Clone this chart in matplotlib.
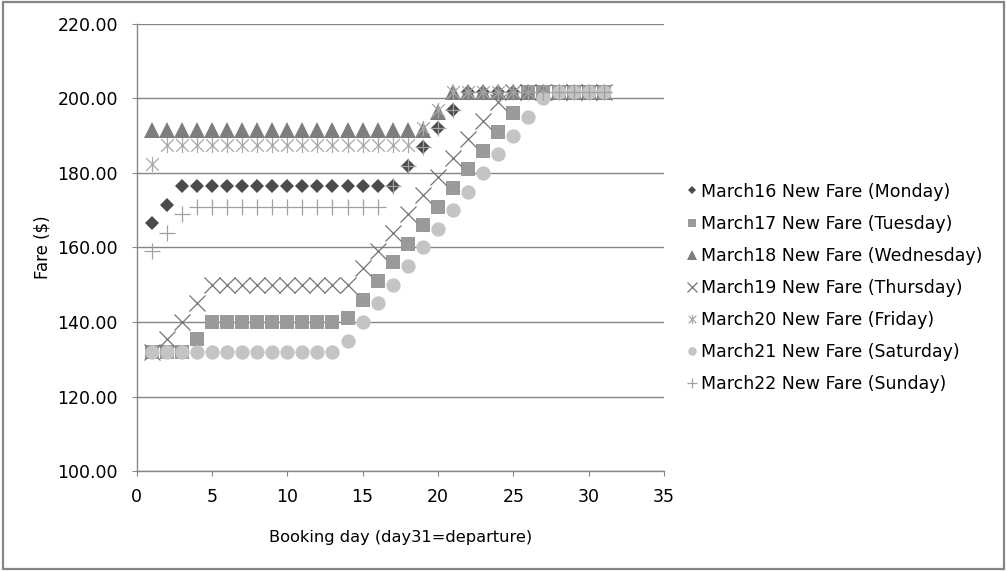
import matplotlib.pyplot as plt
import numpy as np
from matplotlib.patches import Rectangle
from matplotlib.path import Path

plt.rcParams['font.family'] = ['DejaVu Sans']

# booking day 1..31 (day 31 = departure)
days = np.arange(1, 32)

monday = [166.5, 171.5, 176.5, 176.5, 176.5, 176.5, 176.5, 176.5, 176.5, 176.5,
          176.5, 176.5, 176.5, 176.5, 176.5, 176.5, 176.5, 182.0, 187.0, 192.0,
          197.0, 201.7, 201.7, 201.7, 201.7, 201.7, 201.7, 201.7, 201.7, 201.7, 201.7]
tuesday = [132.0, 132.0, 132.0, 135.5, 140.0, 140.0, 140.0, 140.0, 140.0, 140.0,
           140.0, 140.0, 140.0, 141.0, 146.0, 151.0, 156.0, 161.0, 166.0, 171.0,
           176.0, 181.0, 186.0, 191.0, 196.0, 201.7, 201.7, 201.7, 201.7, 201.7, 201.7]
wednesday = [191.5, 191.5, 191.5, 191.5, 191.5, 191.5, 191.5, 191.5, 191.5, 191.5,
             191.5, 191.5, 191.5, 191.5, 191.5, 191.5, 191.5, 191.5, 191.5, 196.5,
             201.7, 201.7, 201.7, 201.7, 201.7, 201.7, 201.7, 201.7, 201.7, 201.7, 201.7]
thursday = [132.0, 135.5, 140.0, 145.0, 150.0, 150.0, 150.0, 150.0, 150.0, 150.0,
            150.0, 150.0, 150.0, 150.0, 154.5, 159.0, 164.0, 169.0, 174.0, 179.0,
            184.0, 189.0, 194.0, 199.0, 201.7, 201.7, 201.7, 201.7, 201.7, 201.7, 201.7]
friday = [182.5, 187.5, 187.5, 187.5, 187.5, 187.5, 187.5, 187.5, 187.5, 187.5,
          187.5, 187.5, 187.5, 187.5, 187.5, 187.5, 187.5, 187.5, 192.0, 197.0,
          201.7, 201.7, 201.7, 201.7, 201.7, 201.7, 201.7, 201.7, 201.7, 201.7, 201.7]
saturday = [132.0, 132.0, 132.0, 132.0, 132.0, 132.0, 132.0, 132.0, 132.0, 132.0,
            132.0, 132.0, 132.0, 135.0, 140.0, 145.0, 150.0, 155.0, 160.0, 165.0,
            170.0, 175.0, 180.0, 185.0, 190.0, 195.0, 200.0, 201.7, 201.7, 201.7, 201.7]
sunday = [159.0, 164.0, 169.0, 171.0, 171.0, 171.0, 171.0, 171.0, 171.0, 171.0,
          171.0, 171.0, 171.0, 171.0, 171.0, 171.0, 176.5, 182.0, 187.0, 192.0,
          197.0, 201.7, 201.7, 201.7, 201.7, 201.7, 201.7, 201.7, 201.7, 201.7, 201.7]

labels = ['March16 New Fare (Monday)', 'March17 New Fare (Tuesday)',
          'March18 New Fare (Wednesday)', 'March19 New Fare (Thursday)',
          'March20 New Fare (Friday)', 'March21 New Fare (Saturday)',
          'March22 New Fare (Sunday)']

# Excel-style star: an x with a vertical bar through it
star = Path([(-1, -1), (1, 1), (-1, 1), (1, -1), (0, -1.2), (0, 1.2)],
            [Path.MOVETO, Path.LINETO, Path.MOVETO, Path.LINETO, Path.MOVETO, Path.LINETO])

fig = plt.figure(figsize=(10.07, 5.71), dpi=100)
ax = fig.add_axes([0.1356, 0.1751, 0.5238, 0.7829])

ax.plot(days, monday, ls='none', marker='D', ms=7.3, color='#4b4b4b', mew=0, label=labels[0])
ax.plot(days, tuesday, ls='none', marker='s', ms=10.5, color='#9a9a9a', mew=0, label=labels[1])
ax.plot(days, wednesday, ls='none', marker='^', ms=11, color='#7d7d7d', mew=0, label=labels[2])
ax.plot(days, thursday, ls='none', marker='x', ms=11, color='#747474', mew=0.9, label=labels[3])
ax.plot(days, friday, ls='none', marker=star, ms=11, color='#a8a8a8', mew=0.9, label=labels[4])
ax.plot(days, saturday, ls='none', marker='o', ms=10.3, color='#c4c4c4', mew=0, label=labels[5])
ax.plot(days, sunday, ls='none', marker='+', ms=11, color='#a0a0a0', mew=0.9, label=labels[6])

ax.set_xlim(0, 35)
ax.set_ylim(100, 220)
ax.set_xticks(np.arange(0, 36, 5))
ax.set_yticks(np.arange(100, 221, 20))
ax.set_yticklabels([f'{v:.2f}' for v in np.arange(100, 221, 20)])
ax.grid(axis='y', color='#868686', lw=1.0)
ax.set_axisbelow(True)
for s in ['top', 'right']:
    ax.spines[s].set_visible(False)
for s in ['left', 'bottom']:
    ax.spines[s].set_color('#868686')
    ax.spines[s].set_linewidth(1.0)
ax.tick_params(colors='#868686', labelcolor='black', labelsize=12.5, length=3.5)
ax.tick_params(axis='y', pad=10)
ax.tick_params(axis='x', pad=9)

ax.set_xlabel('Booking day (day31=departure)', fontsize=11.7, labelpad=17)
ax.set_ylabel('Fare ($)', fontsize=12, labelpad=4)

ax.legend(loc='center left', bbox_to_anchor=(1.03, 0.41), frameon=False,
          fontsize=12.5, markerscale=0.6, handlelength=0.6, handletextpad=0.2,
          labelspacing=0.81, borderaxespad=0)

# outer chart frame
fig.patches.append(Rectangle((0.003, 0.004), 0.994, 0.992, transform=fig.transFigure,
                             fill=False, edgecolor='#868686', lw=1.6))

fig.savefig('out.png', dpi=100)
